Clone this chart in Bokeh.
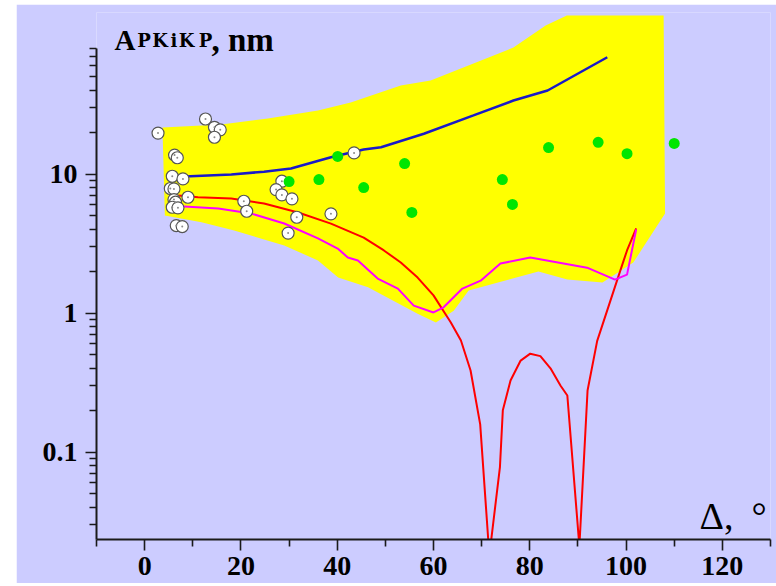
from bokeh.plotting import figure
from bokeh.models import FixedTicker, Range1d, Spacer
from bokeh.layouts import row, column
from bokeh.core.properties import value
from bokeh.embed import file_html
from bokeh.resources import INLINE

# ---------------- data ----------------
band_upper_x = [3.7, 15.9, 25.6, 36.0, 42.8, 53.2, 59.4, 68.3, 76.6, 83.3, 87.7, 107.8]
band_upper_y = [21.6, 22.7, 25.1, 28.6, 32.7, 43.3, 47.1, 62.4, 81.3, 117, 138, 138]
band_lower_x = [4.2, 11.8, 18.6, 29.0, 36.0, 40.2, 46.4, 56.7, 60.5, 64.2, 67.3,
                81.8, 87.8, 95.1, 101.5, 108.1]
band_lower_y = [5.03, 4.50, 3.92, 3.06, 2.39, 1.80, 1.53, 0.99, 0.855, 1.04, 1.45,
                1.99, 1.74, 1.66, 2.31, 5.20]

blue_x = [7.0, 8.3, 18.0, 24.8, 30.4, 38.7, 45.5, 49.1, 58.0, 68.3, 76.6, 83.7, 90.5, 96.1]
blue_y = [9.6, 9.59, 9.92, 10.4, 10.95, 13.2, 15.0, 15.6, 19.5, 26.4, 33.8, 39.9, 54.0, 69.2]

red_x = [7.0, 11.1, 18.0, 24.8, 31.9, 38.7, 45.5, 49.7, 53.2, 56.7, 60.0, 63.6, 65.7,
         67.7, 69.7, 71.6, 73.8, 74.4, 76.0, 78.1, 80.1, 82.2, 84.3, 86.4, 87.8, 90.3,
         92.0, 94.0, 98.8, 100.2, 102.1]
red_y = [7.0, 6.81, 6.66, 6.14, 5.29, 4.40, 3.49, 2.82, 2.31, 1.80, 1.34, 0.855, 0.634,
         0.386, 0.158, 0.018, 0.078, 0.2, 0.327, 0.455, 0.51, 0.49, 0.40, 0.30, 0.255, 0.021,
         0.277, 0.63, 2.02, 2.82, 4.06]

magenta_x = [7.0, 8.2, 15.3, 22.1, 29.0, 36.0, 40.1, 42.2, 44.3, 48.4, 52.6, 55.9, 60.0,
             62.1, 66.0, 69.8, 73.9, 80.1, 91.9, 97.7, 100.2, 102.1]
magenta_y = [5.85, 5.84, 5.65, 5.20, 4.41, 3.44, 2.91, 2.51, 2.39, 1.77, 1.50, 1.13, 1.01,
             1.10, 1.50, 1.71, 2.27, 2.51, 2.12, 1.74, 1.89, 3.99]

white_x = [2.78, 12.64, 14.5, 15.7, 14.5, 6.22, 6.78, 5.74, 7.96, 5.33, 6.09, 6.09, 9.0,
           6.42, 5.74, 6.92, 6.57, 7.81, 20.6, 21.2, 28.5, 27.3, 28.5, 30.6, 31.6, 29.8,
           38.7, 43.5]
white_y = [19.7, 24.9, 21.7, 20.8, 18.4, 13.7, 13.1, 9.64, 9.23, 7.87, 7.82, 6.55, 6.81,
           6.27, 5.77, 5.71, 4.26, 4.19, 6.37, 5.40, 8.88, 7.73, 7.08, 6.63, 4.89, 3.76,
           5.17, 14.2]

green_x = [30.0, 36.2, 40.1, 45.5, 54.0, 55.5, 74.3, 76.4, 83.9, 94.2, 100.2, 110.0]
green_y = [8.83, 9.13, 13.4, 8.0, 11.9, 5.29, 9.13, 6.04, 15.5, 16.9, 14.0, 16.6]

x_major = [0, 20, 40, 60, 80, 100, 120]
x_minor = [-10, 10, 30, 50, 70, 90, 110, 130]
y_major = [0.1, 1, 10]
y_labels = {0.1: "0.1", 1: "1", 10: "10"}
y_minor = [0.03, 0.04, 0.05, 0.06, 0.07, 0.08, 0.09,
           0.2, 0.3, 0.4, 0.5, 0.6, 0.7, 0.8, 0.9,
           2, 3, 4, 5, 6, 7, 8, 9, 20, 30, 40, 50, 60, 70, 80]

BG = "#ccccff"
SERIF = value("Liberation Serif")

p = figure(width=760, height=579, y_axis_type="log",
           x_range=Range1d(-10, 130), y_range=Range1d(0.02348, 145.3),
           output_backend="svg", toolbar_location=None,
           min_border_left=80, min_border_right=6, min_border_top=8, min_border_bottom=44)
p.background_fill_color = BG
p.border_fill_color = BG
p.outline_line_color = None
p.grid.visible = False

# yellow band
p.patch(band_upper_x + band_lower_x[::-1], band_upper_y + band_lower_y[::-1],
        fill_color="#ffff00", line_color=None)

p.line(blue_x, blue_y, line_color="#1a1ac8", line_width=2.5)
p.line(red_x, red_y, line_color="#ff0000", line_width=2)
p.line(magenta_x, magenta_y, line_color="#ff00ff", line_width=2)

p.scatter(white_x, white_y, marker="circle", size=12, fill_color="white",
          line_color="#555555", line_width=1.2)
p.scatter(white_x, white_y, marker="circle", size=2, fill_color="#8a8a8a", line_color=None)
p.scatter(green_x, green_y, marker="circle", size=11, fill_color="#00e600", line_color=None)

# axes
xa = p.xaxis[0]
xa.ticker = FixedTicker(ticks=x_major, minor_ticks=x_minor)
ya = p.yaxis[0]
ya.ticker = FixedTicker(ticks=y_major, minor_ticks=y_minor)
ya.major_label_overrides = y_labels
ya.bounds = (0.02348, 80)
for ax in (xa, ya):
    ax.axis_line_width = 2
    ax.axis_line_color = "#1a1a1a"
    ax.major_tick_line_width = 1.6
    ax.minor_tick_line_width = 1.6
    ax.major_tick_line_color = "#1a1a1a"
    ax.minor_tick_line_color = "#1a1a1a"
    ax.major_tick_in = 0
    ax.minor_tick_in = 0
    ax.major_tick_out = 11
    ax.minor_tick_out = 7
    ax.major_label_text_font = "Liberation Serif"
    ax.major_label_text_font_style = "bold"
    ax.major_label_text_font_size = "28px"
    ax.major_label_text_color = "black"
ya.major_label_standoff = 8
xa.major_label_standoff = 6

# axis titles
p.text(x=[-6.26], y=[92.0], text=["A"], text_font=SERIF, text_font_style="bold",
       text_font_size="29px", text_baseline="alphabetic", text_align="left", text_color="black")
p.text(x=[-1.55, 1.57, 5.37, 7.10, 11.25], y=[92.0] * 5, text=["P", "K", "i", "K", "P"],
       text_font=value("DejaVu Serif"), text_font_style="bold", text_font_size="18px",
       text_baseline="alphabetic", text_align="left", text_color="black")
p.text(x=[13.89], y=[92.0], text=[", nm"], text_font=SERIF, text_font_style="bold",
       text_font_size="33px", text_baseline="alphabetic", text_align="left", text_color="black")
p.text(x=[115.26], y=[0.0349], text=["Δ,"], text_font=SERIF,
       text_font_size="38px", text_baseline="alphabetic", text_align="left", text_color="black")
p.text(x=[126.06], y=[0.0349], text=["°"], text_font=SERIF,
       text_font_size="38px", text_baseline="alphabetic", text_align="left", text_color="black")

layout = column(Spacer(width=776, height=4), row(Spacer(width=16, height=579), p))
open("out.html", "w").write(file_html(layout, INLINE))
